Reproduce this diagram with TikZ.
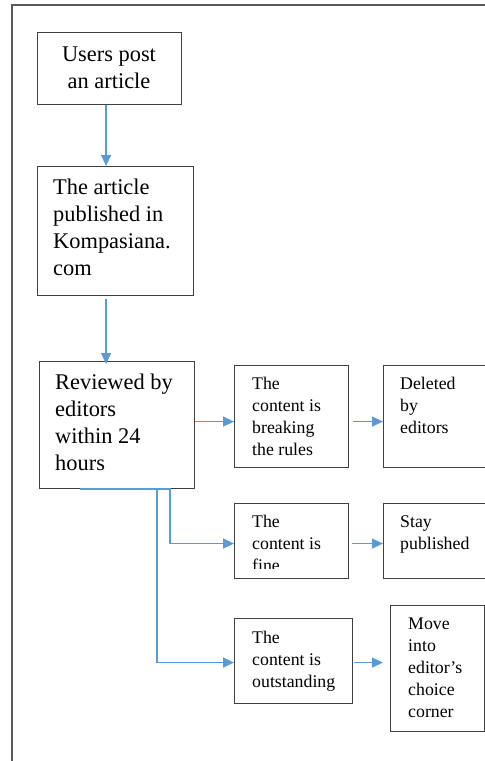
\documentclass[tikz,border=0pt]{standalone}
\usepackage{fontspec}
\setmainfont{Liberation Serif}
\usetikzlibrary{arrows.meta}
\definecolor{flowblue}{HTML}{5B9BD5}
\tikzset{
  box/.style={draw=black!75, line width=1.1pt, anchor=north west, inner sep=0pt},
  bigtext/.style={font=\fontsize{22.4}{26.7}\selectfont, align=left, anchor=base west, inner sep=0pt},
  smalltext/.style={font=\fontsize{17.8}{22.2}\selectfont, align=left, anchor=base west, inner sep=0pt},
  flow/.style={draw=flowblue, line width=1.3pt, -{Triangle[length=11pt,width=10pt]}}
}
\begin{document}
\begin{tikzpicture}[x=1pt,y=-1pt]
\useasboundingbox (0,0) rectangle (485,761);
\draw[black!65, line width=1.4pt] (12,762) -- (12,5) -- (486,5);

% boxes
\node[box, minimum width=144pt, minimum height=72pt] (post) at (37,32) {};
\node[box, minimum width=156pt, minimum height=129pt] (pub) at (37,166) {};
\node[box, minimum width=155pt, minimum height=127pt] (rev) at (39,361) {};
\node[box, minimum width=114pt, minimum height=102pt] (brk) at (234,365) {};
\node[box, minimum width=103pt, minimum height=102pt] (del) at (383,365) {};
\node[box, minimum width=114pt, minimum height=75pt] (fine) at (234,503) {};
\node[box, minimum width=103pt, minimum height=75pt] (stay) at (383,503) {};
\node[box, minimum width=118pt, minimum height=85pt] (out) at (234,618) {};
\node[box, minimum width=94pt, minimum height=126pt] (move) at (390,605) {};

% texts (anchored at the baseline of their last line)
\node[bigtext, align=center, anchor=base] (tpost) at (109,88) {Users post\\an article};
\node[bigtext] (tpub) at (53,275) {The article\\published in\\Kompasiana.\\com};
\node[bigtext] (trev) at (55,470) {Reviewed by\\editors\\within 24\\hours};
\node[smalltext] (tbrk) at (252,455.6) {The\\content is\\breaking\\the rules};
\node[smalltext] (tdel) at (400,433.4) {Deleted\\by\\editors};
\begin{scope}
  \clip (234,503) rectangle (348,568);
  \node[smalltext] (tfine) at (252,571.4) {The\\content is\\fine};
\end{scope}
\node[smalltext] (tstay) at (400,549.2) {Stay\\published};
\node[smalltext] (tout) at (252,687.4) {The\\content is\\outstanding};
\node[smalltext] (tmove) at (408,717.8) {Move\\into\\editor's\\choice\\corner};

% connectors
\draw[flow] ([shift={(-3.5,0)}]post.south) -- ([shift={(-3.5,0)}]post.south |- pub.north);
\draw[flow] ([shift={(-9.5,3)}]pub.south) -- ([shift={(-9.5,3)}]pub.south |- rev.north);
\draw[flow] ([shift={(0,-3.5)}]rev.east) -- ([shift={(0,-3.5)}]rev.east -| brk.west);
\draw[flow] ([shift={(4,5)}]brk.east) -- ([shift={(0,5)}]brk.east -| del.west);
\draw[flow] ([shift={(41,0)}]rev.south west) -- ([shift={(131,0)}]rev.south west) |- ([shift={(0,2.5)}]fine.west);
\draw[flow] ([shift={(118,0)}]rev.south west) |- ([shift={(0,1.5)}]out.west);
\draw[flow] ([shift={(3,2.5)}]fine.east) -- ([shift={(0,2.5)}]fine.east -| stay.west);
\draw[flow, shorten >=7pt] ([shift={(1,1.5)}]out.east) -- ([shift={(0,1.5)}]out.east -| move.west);
\end{tikzpicture}
\end{document}
